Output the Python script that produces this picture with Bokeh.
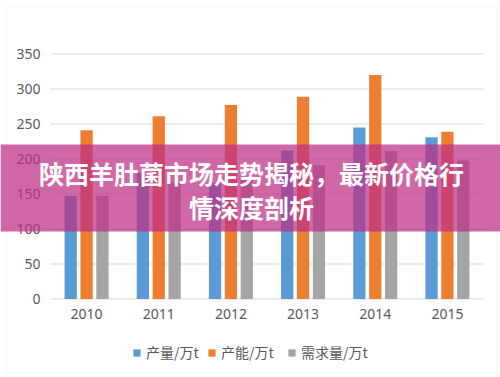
from bokeh.plotting import figure
from bokeh.models import (Range1d, Legend, LegendItem, BoxAnnotation, Label, LinearAxis,
                          FixedTicker, ColumnDataSource)
from bokeh.transform import dodge
from bokeh.embed import file_html
from bokeh.resources import INLINE

years = ["2010", "2011", "2012", "2013", "2014", "2015"]
production = [147, 180, 166, 212, 245, 231]
capacity = [241, 261, 277, 289, 320, 239]
demand = [147, 166, 170, 191, 211, 198]
y_ticks = [0, 50, 100, 150, 200, 250, 300, 350]
series_names = ["产量/万t", "产能/万t", "需求量/万t"]
title_lines = ["陕西羊肚菌市场走势揭秘，最新价格行", "情深度剖析"]

colors = ["#5B9BD5", "#ED7D31", "#A5A5A5"]

n = len(years)
idx = list(range(n))
src = ColumnDataSource(dict(idx=idx, production=production, capacity=capacity, demand=demand))

# frame covers the whole canvas; plot area 50..483 px horizontally, 53.5..298.5 px vertically
W, H = 500, 377
left_px, right_px, top_px, bot_px = 50, 483, 53.5, 298.5
xs_per_px = n / (right_px - left_px)
x0 = -0.5 - left_px * xs_per_px
x1 = n - 0.5 + (W - right_px) * xs_per_px
ys_per_px = y_ticks[-1] / (bot_px - top_px)
y0 = -(H - bot_px) * ys_per_px
y1 = y_ticks[-1] + top_px * ys_per_px

p = figure(width=W, height=H, x_range=Range1d(x0, x1), y_range=Range1d(y0, y1),
           output_backend="svg", toolbar_location=None,
           x_axis_location=None, y_axis_location=None,
           min_border=0, min_border_left=0, min_border_right=0, min_border_top=0, min_border_bottom=0)
p.background_fill_color = "white"
p.border_fill_color = "white"
p.outline_line_color = None
p.xgrid.visible = False
p.ygrid.visible = False

# gridlines across the plot area
p.segment(x0=[-0.5] * len(y_ticks), x1=[n - 0.5] * len(y_ticks), y0=y_ticks, y1=y_ticks,
          line_color="#D9D9D9", line_width=1)

r1 = p.vbar(x=dodge("idx", -0.22), top="production", width=0.17, source=src,
            fill_color=colors[0], line_color=None)
r2 = p.vbar(x=dodge("idx", 0.0), top="capacity", width=0.17, source=src,
            fill_color=colors[1], line_color=None)
r3 = p.vbar(x=dodge("idx", 0.22), top="demand", width=0.17, source=src,
            fill_color=colors[2], line_color=None)

yaxis = LinearAxis(fixed_location=-0.5, ticker=FixedTicker(ticks=y_ticks))
xaxis = LinearAxis(fixed_location=0, ticker=FixedTicker(ticks=idx),
                   major_label_overrides={i: y for i, y in enumerate(years)})
for ax in (xaxis, yaxis):
    ax.axis_line_color = None
    ax.major_tick_line_color = None
    ax.minor_tick_line_color = None
    ax.major_tick_out = 0
    ax.major_tick_in = 0
    ax.minor_tick_out = 0
    ax.minor_tick_in = 0
    ax.major_label_text_font = "Noto Sans"
    ax.major_label_text_font_size = "14px"
    ax.major_label_text_color = "#595959"
xaxis.major_label_standoff = 10
yaxis.major_label_standoff = 10
p.add_layout(yaxis, "left")
p.add_layout(xaxis, "below")

for r, name, lx in zip([r1, r2, r3], series_names, [132, 207, 287]):
    lg = Legend(items=[LegendItem(label=name, renderers=[r])],
                orientation="horizontal", location=(lx, 15))
    lg.glyph_width = 9
    lg.glyph_height = 9
    lg.label_standoff = 5
    lg.spacing = 0
    lg.padding = 0
    lg.margin = 0
    lg.border_line_color = None
    lg.background_fill_color = None
    lg.label_text_font = "Noto Sans CJK SC"
    lg.label_text_font_size = "14px"
    lg.label_text_color = "#595959"
    p.add_layout(lg)

outer = BoxAnnotation(left=5.5, right=496.5, top=5.5, bottom=372.5,
                      left_units="canvas", right_units="canvas", top_units="canvas", bottom_units="canvas",
                      fill_color=None, line_color="#D9D9D9", line_width=1)
p.add_layout(outer)

banner = BoxAnnotation(left=0, right=W, top=144, bottom=231,
                       left_units="canvas", right_units="canvas", top_units="canvas", bottom_units="canvas",
                       fill_color="rgb(190,46,135)", fill_alpha=0.72, line_color=None)
p.add_layout(banner)

for txt, yy in zip(title_lines, [172.5, 206]):
    p.add_layout(Label(x=251, y=yy, x_units="canvas", y_units="canvas", text=txt,
                       text_align="center", text_baseline="middle",
                       text_font="Noto Sans CJK SC", text_font_style="bold",
                       text_font_size="25px", text_color="white"))

open("out.html", "w").write(file_html(p, INLINE))
